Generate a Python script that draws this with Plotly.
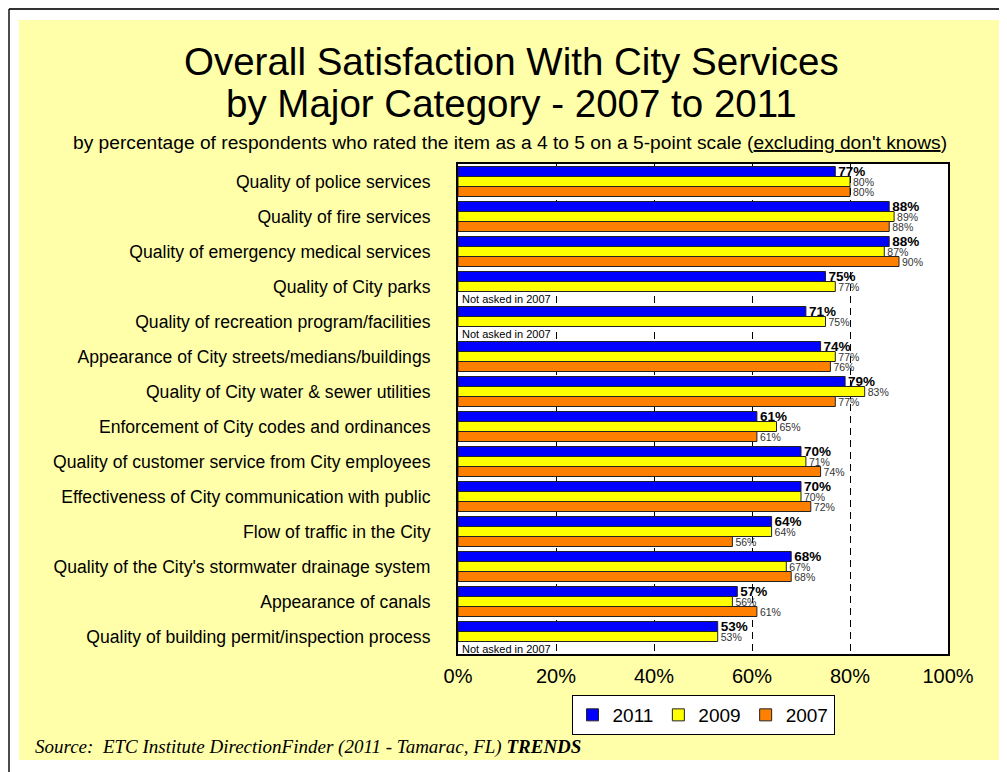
import plotly.graph_objects as go

categories = [
    "Quality of police services",
    "Quality of fire services",
    "Quality of emergency medical services",
    "Quality of City parks",
    "Quality of recreation program/facilities",
    "Appearance of City streets/medians/buildings",
    "Quality of City water & sewer utilities",
    "Enforcement of City codes and ordinances",
    "Quality of customer service from City employees",
    "Effectiveness of City communication with public",
    "Flow of traffic in the City",
    "Quality of the City's stormwater drainage system",
    "Appearance of canals",
    "Quality of building permit/inspection process",
]
values_2011 = [77, 88, 88, 75, 71, 74, 79, 61, 70, 70, 64, 68, 57, 53]
values_2009 = [80, 89, 87, 77, 75, 77, 83, 65, 71, 70, 64, 67, 56, 53]
values_2007 = [80, 88, 90, None, None, 76, 77, 61, 74, 72, 56, 68, 61, None]
not_asked_text = "Not asked in 2007"

# reference pixel geometry (page coords); page body has an 8px margin
OFF = 8
W, H = 1007, 772
L, R, T, B = 458, 948, 164, 654


def px_x(x):
    return (x - L) / (R - L)


def px_y(y):
    return (B - y) / (B - T)


FONT = "Liberation Sans, Arial, sans-serif"

fig = go.Figure()
series = [
    ("2011", values_2011, "#0000FF", dict(size=13.5, color="#000000", family=FONT), True),
    ("2009", values_2009, "#FFFF00", dict(size=10.5, color="#333333", family=FONT), False),
    ("2007", values_2007, "#FF8000", dict(size=10.5, color="#333333", family=FONT), False),
]
for name, vals, color, tfont, bold in series:
    labels = []
    for v in vals:
        if v is None:
            labels.append("")
        elif bold:
            labels.append(f"<b>{v}%</b>")
        else:
            labels.append(f"{v}%")
    fig.add_trace(go.Bar(
        name=name, y=categories, x=vals, orientation="h",
        marker=dict(color=color, line=dict(color="#222222", width=1)),
        text=labels, textposition="outside", textfont=tfont,
        constraintext="none", cliponaxis=False, textangle=0,
        hoverinfo="x+y+name",
    ))

for cat, v in zip(categories, values_2007):
    if v is None:
        fig.add_annotation(x=0, y=cat, xref="x", yref="y", text=not_asked_text,
                           showarrow=False, xanchor="left", yanchor="middle",
                           xshift=2, yshift=-12,
                           font=dict(size=11, color="#000000", family=FONT))

shapes = [
    dict(type="rect", xref="paper", yref="paper", x0=px_x(19), x1=px_x(1004),
         y0=px_y(760), y1=px_y(20), fillcolor="#FFFFAA", line=dict(width=0), layer="below"),
    dict(type="rect", xref="paper", yref="paper", x0=0, x1=1, y0=0, y1=1,
         fillcolor="#FFFFFF", line=dict(width=0), layer="below"),
    dict(type="line", xref="paper", yref="paper", x0=px_x(9), x1=px_x(1010),
         y0=px_y(9), y1=px_y(9), line=dict(color="#333333", width=2)),
    dict(type="line", xref="paper", yref="paper", x0=px_x(9), x1=px_x(9),
         y0=px_y(9), y1=px_y(775), line=dict(color="#111111", width=1.5)),
]

annotations = [
    dict(text="Overall Satisfaction With City Services", x=px_x(511), y=px_y(62),
         font=dict(size=38.5, family=FONT, color="#000000")),
    dict(text="by Major Category - 2007 to 2011", x=px_x(511), y=px_y(103),
         font=dict(size=38.5, family=FONT, color="#000000")),
    dict(text="by percentage of respondents who rated the item as a 4 to 5 on a 5-point scale (<u>excluding don't knows</u>)",
         x=px_x(510), y=px_y(143), font=dict(size=19.2, family=FONT, color="#000000")),
]
for a in annotations:
    a.update(xref="paper", yref="paper", showarrow=False, xanchor="center", yanchor="middle")
    fig.add_annotation(**a)

fig.add_annotation(
    text="<i>Source:  ETC Institute DirectionFinder (2011 - Tamarac, FL) <b>TRENDS</b></i>",
    xref="paper", yref="paper", x=px_x(33), y=px_y(747), xanchor="left", yanchor="middle",
    showarrow=False, font=dict(size=19, family="Liberation Serif, Times New Roman, serif", color="#000000"))

fig.update_layout(
    width=W - OFF, height=H - OFF,
    margin=dict(l=L - OFF, r=W - R, t=T - OFF, b=H - B, pad=0),
    paper_bgcolor="#FFFFFF", plot_bgcolor="rgba(0,0,0,0)",
    barmode="group", bargap=0.143, bargroupgap=0,
    shapes=shapes,
    showlegend=True,
    legend=dict(orientation="h", x=0.5, xanchor="center", y=px_y(695), yanchor="top",
                bgcolor="#FFFFFF", bordercolor="#000000", borderwidth=1,
                font=dict(size=19, family=FONT, color="#000000"),
                traceorder="normal", itemwidth=30, tracegroupgap=0),
    font=dict(family=FONT, color="#000000"),
)
fig.update_xaxes(range=[0, 100], dtick=20, ticksuffix="%", showgrid=True,
                 gridcolor="#000000", gridwidth=1, griddash="7px,5px",
                 zeroline=False, showline=True, linecolor="#000000", linewidth=2, mirror=True,
                 ticks="", ticklabelstandoff=3,
                 tickfont=dict(size=20, family=FONT, color="#000000"),
                 fixedrange=True)
fig.update_yaxes(autorange="reversed", showgrid=False, showline=True, linecolor="#000000",
                 linewidth=2, mirror=True, ticks="", ticklabelstandoff=22,
                 tickfont=dict(size=17.6, family=FONT, color="#000000"), fixedrange=True)

fig.write_html("out.html")
